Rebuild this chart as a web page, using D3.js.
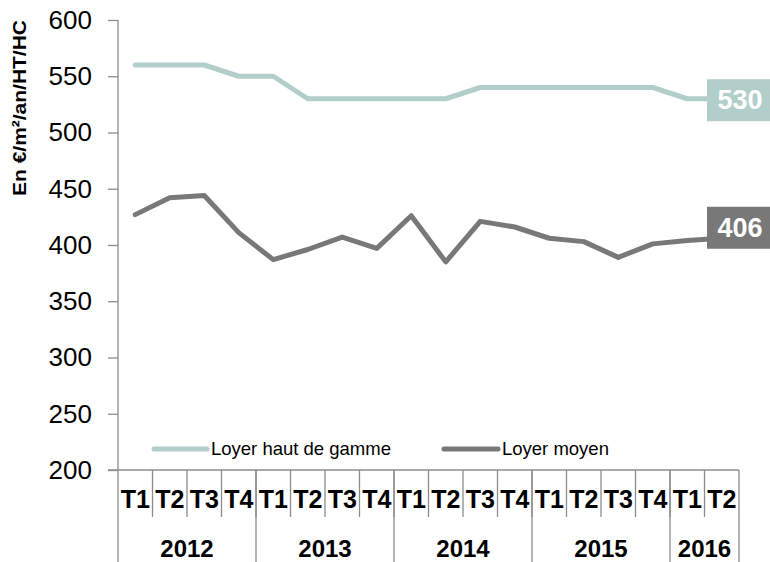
<!DOCTYPE html>
<html>
<head>
<meta charset="utf-8">
<script src="https://cdn.jsdelivr.net/npm/d3@7"></script>
<style>
  html, body { margin: 0; padding: 0; background: #fff; }
  svg { display: block; font-family: "Liberation Sans", Arial, sans-serif; }
</style>
</head>
<body>
<svg id="chart" width="770" height="562"></svg>
<script>
// Quarterly rents, 2012 T1 to 2016 T2
const years = ["2012", "2013", "2014", "2015", "2016"];
const quartersPerYear = [4, 4, 4, 4, 2];
const quarterLabels = ["T1","T2","T3","T4","T1","T2","T3","T4","T1","T2","T3","T4","T1","T2","T3","T4","T1","T2"];
const loyerHautDeGamme = [560,560,560,550,550,530,530,530,530,530,540,540,540,540,540,540,530,530];
const loyerMoyen = [427,442,444,411,387,396,407,397,426,385,421,416,406,403,389,401,404,406];
const yTicks = [200,250,300,350,400,450,500,550,600];
const seriesNames = ["Loyer haut de gamme", "Loyer moyen"];

const colors = { haut: "#b2cecb", moyen: "#787878", axis: "#8c8c8c" };

const svg = d3.select("#chart");
const plotLeft = 118, plotRight = 739, plotTop = 20, plotBottom = 470;

const x = d3.scaleBand().domain(d3.range(quarterLabels.length)).range([plotLeft, plotRight]).paddingInner(0).paddingOuter(0);
const y = d3.scaleLinear().domain([200, 600]).range([plotBottom, plotTop]);

// Y axis
const yAxis = d3.axisLeft(y).tickValues(yTicks).tickSize(10).tickPadding(16);
const gy = svg.append("g").attr("transform", `translate(${plotLeft},0)`).call(yAxis);
gy.select(".domain").remove();
gy.selectAll(".tick line").attr("stroke", colors.axis).attr("stroke-width", 1.3);
gy.selectAll(".tick text").attr("font-size", 26).attr("fill", "#000")
  .attr("font-family", "'Liberation Sans', Arial, sans-serif");
svg.append("line").attr("x1", plotLeft).attr("x2", plotLeft).attr("y1", plotTop).attr("y2", 562)
  .attr("stroke", colors.axis).attr("stroke-width", 1.3);

// Y axis title
svg.append("text")
  .attr("transform", "translate(19,108) rotate(-90)")
  .attr("text-anchor", "middle").attr("dominant-baseline", "central")
  .attr("font-size", 19).attr("font-weight", "bold").attr("fill", "#000")
  .attr("textLength", 176).attr("lengthAdjust", "spacingAndGlyphs")
  .text("En €/m²/an/HT/HC");

// X axis line
svg.append("line").attr("x1", plotLeft - 10).attr("x2", plotRight).attr("y1", plotBottom).attr("y2", plotBottom)
  .attr("stroke", colors.axis).attr("stroke-width", 1.3);

// Quarter separators and labels
const xg = svg.append("g");
quarterLabels.forEach((q, i) => {
  if (i > 0) {
    xg.append("line").attr("x1", x(i)).attr("x2", x(i)).attr("y1", plotBottom).attr("y2", 517)
      .attr("stroke", colors.axis).attr("stroke-width", 1.3);
  }
  xg.append("text")
    .attr("x", x(i) + x.bandwidth() / 2).attr("y", 508)
    .attr("text-anchor", "middle").attr("font-size", 25).attr("font-weight", "bold").attr("fill", "#000")
    .text(q);
});

// Year separators and labels
let start = 0;
years.forEach((yr, k) => {
  const end = start + quartersPerYear[k];
  const x1 = x(start), x2 = end < quarterLabels.length ? x(end) : plotRight;
  xg.append("line").attr("x1", x2).attr("x2", x2).attr("y1", plotBottom).attr("y2", 562)
    .attr("stroke", colors.axis).attr("stroke-width", 1.3);
  xg.append("text")
    .attr("x", (x1 + x2) / 2).attr("y", 557)
    .attr("text-anchor", "middle").attr("font-size", 24).attr("font-weight", "bold").attr("fill", "#000")
    .text(yr);
  start = end;
});

// Lines
const line = d3.line()
  .x((d, i) => x(i) + x.bandwidth() / 2)
  .y(d => y(d));

[[loyerHautDeGamme, colors.haut], [loyerMoyen, colors.moyen]].forEach(([data, c]) => {
  svg.append("path").datum(data).attr("d", line)
    .attr("fill", "none").attr("stroke", c).attr("stroke-width", 5)
    .attr("stroke-linejoin", "round").attr("stroke-linecap", "round");
});

// End-of-series value labels
const endLabels = [
  { value: loyerHautDeGamme[loyerHautDeGamme.length - 1], color: colors.haut, dy: 1 },
  { value: loyerMoyen[loyerMoyen.length - 1], color: colors.moyen, dy: -11 }
];
endLabels.forEach(l => {
  const cy = y(l.value) + l.dy;
  svg.append("rect").attr("x", 707).attr("y", cy - 20.5).attr("width", 63).attr("height", 42)
    .attr("fill", l.color);
  svg.append("text").attr("x", 740).attr("y", cy).attr("dy", "0.36em")
    .attr("text-anchor", "middle").attr("font-size", 27).attr("font-weight", "bold").attr("fill", "#fff")
    .text(l.value);
});

// Legend
const legend = [
  { name: seriesNames[0], color: colors.haut, x1: 154, x2: 207 },
  { name: seriesNames[1], color: colors.moyen, x1: 444, x2: 498 }
];
legend.forEach(l => {
  svg.append("line").attr("x1", l.x1).attr("x2", l.x2).attr("y1", 449).attr("y2", 449)
    .attr("stroke", l.color).attr("stroke-width", 5).attr("stroke-linecap", "round");
  svg.append("text").attr("x", l.x2 + 4).attr("y", 455)
    .attr("font-size", 18.5).attr("fill", "#000").text(l.name);
});
</script>
</body>
</html>
